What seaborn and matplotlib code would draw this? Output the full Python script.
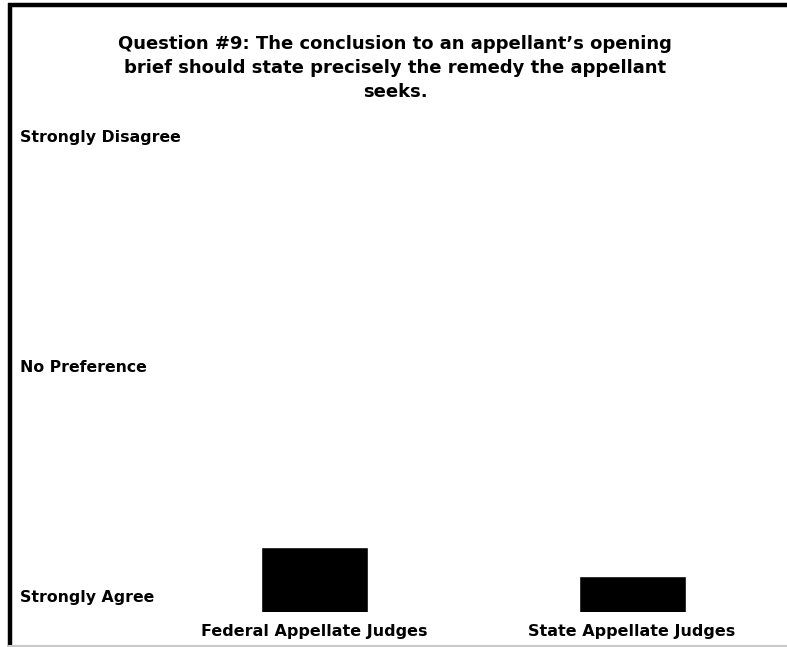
import matplotlib
matplotlib.use("Agg")
import matplotlib.pyplot as plt
import seaborn as sns
import pandas as pd
from matplotlib.lines import Line2D

groups = ["Federal Appellate Judges", "State Appellate Judges"]
mean_scores = [1.43, 1.17]
scale_ticks = [1, 3, 5]
scale_labels = ["Strongly Agree", "No Preference", "Strongly Disagree"]
title = ("Question #9: The conclusion to an appellant\u2019s opening\n"
         "brief should state precisely the remedy the appellant\n"
         "seeks.")

data = pd.DataFrame({"group": groups, "score": mean_scores})

sns.set_theme(style="white")
plt.rcParams["font.family"] = ["DejaVu Sans"]
plt.rcParams["text.color"] = "black"
plt.rcParams["xtick.color"] = "black"
plt.rcParams["ytick.color"] = "black"

fig = plt.figure(figsize=(7.87, 6.47), dpi=100)
ax = fig.add_axes([160 / 787, 35 / 647, 620 / 787, 499 / 647])

sns.barplot(data=data, x="group", y="score", color="black", width=0.337,
            saturation=1, ax=ax)

ax.set_xlim(-0.487, 1.466)
ax.set_ylim(0.861, 5.2)
ax.set_yticks(scale_ticks)
ax.set_yticklabels(scale_labels, fontsize=11.3, fontweight="bold", ha="left")
ax.tick_params(axis="y", length=0, pad=100.8)
ax.tick_params(axis="x", length=0, pad=8.5)
for lab in ax.get_xticklabels():
    lab.set_fontsize(11.5)
    lab.set_fontweight("bold")
ax.set_xlabel("")
ax.set_ylabel("")
sns.despine(ax=ax, left=True, bottom=True)

fig.text(395 / 787, 1 - 35 / 647, title, ha="center", va="top",
         fontsize=13, fontweight="bold", linespacing=1.42,
         transform=fig.transFigure)

# frame around the picture
W, H = 787, 647
fig.add_artist(Line2D([10 / W, 10 / W], [0, 1 - 3 / H], color="black",
                      lw=3.2, solid_capstyle="butt"))
fig.add_artist(Line2D([8 / W, 1], [1 - 5 / H, 1 - 5 / H], color="black",
                      lw=3.2, solid_capstyle="butt"))
fig.add_artist(Line2D([8 / W, 1], [1 / H, 1 / H], color="#c8c8c8", lw=1.5,
                      solid_capstyle="butt"))

fig.savefig("out.png", dpi=100)
